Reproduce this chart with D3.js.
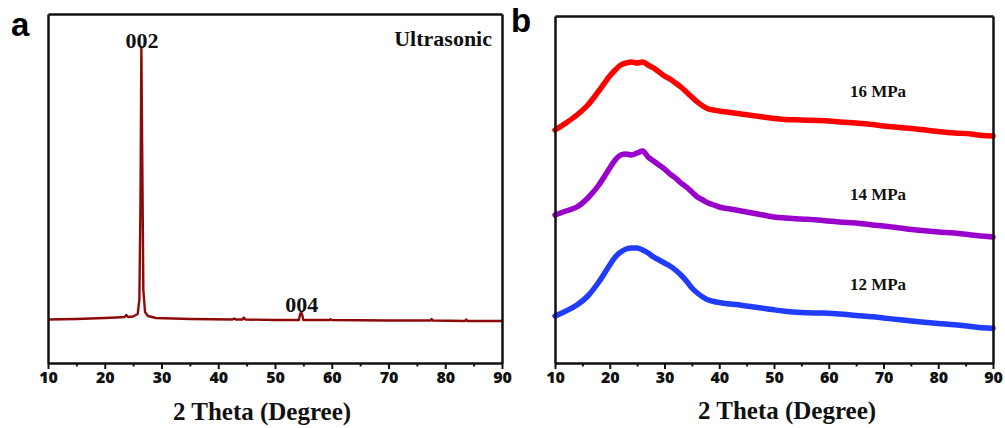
<!DOCTYPE html>
<html>
<head>
<meta charset="utf-8">
<script src="https://cdn.jsdelivr.net/npm/d3@7"></script>
<style>
  body { margin: 0; background: #fff; }
  .domain, .tick line { stroke: #111; }
  .lbl { font-family: "Liberation Serif", "Times New Roman", serif; font-weight: 700; fill: #111; }
  .panel { font-family: "Liberation Sans", Arial, sans-serif; font-weight: 700; font-size: 33px; fill: #000; }
</style>
</head>
<body>
<div id="chart"></div>
<script>
// x ticks, shared by both panels
var majorTicks = [10, 20, 30, 40, 50, 60, 70, 80, 90];
var minorTicks = [15, 25, 35, 45, 55, 65, 75, 85];

// panel a : ultrasonic XRD pattern (2theta, intensity a.u.)
var ultraTheta = [10, 15, 20, 22, 23.5, 23.8, 24.1, 25, 25.8, 26.1, 26.3, 26.45, 26.6, 26.8, 27.1, 27.6, 29, 35,
  42.5, 42.8, 43.1, 44.3, 44.5, 44.8, 50, 54.2, 54.4, 54.6, 54.8, 55.0, 59.6, 59.8, 60, 70,
  77.4, 77.6, 77.8, 83.5, 83.7, 83.9, 90];
var ultraInt = [435, 440, 450, 455, 460, 480, 460, 465, 490, 630, 1630, 3160, 2130, 730, 510, 470, 450, 440,
  435, 445, 435, 435, 455, 435, 430, 430, 480, 510, 480, 430, 430, 437, 430, 425,
  425, 440, 425, 420, 435, 420, 420];

// panel b : three pressures
var pressTheta = [10, 12, 14, 16, 18, 20, 21, 22, 23, 24, 25, 26, 27, 28, 29, 30, 31, 32, 33, 34, 35, 36, 37, 38, 39, 40,
  42, 44, 46, 48, 50, 52, 55, 58, 60, 62, 65, 68, 70, 73, 76, 80, 83, 86, 88, 90];
var mpa16 = [2330, 2400, 2480, 2580, 2720, 2870, 2930, 2980, 3000, 3010, 3000, 3010, 2980, 2950, 2910, 2870, 2840, 2800, 2760, 2710, 2660, 2610, 2570, 2540, 2530, 2520,
  2505, 2490, 2475, 2460, 2445, 2435, 2430, 2425, 2420, 2410, 2400, 2385, 2370, 2355, 2340, 2315, 2300, 2290, 2275, 2270];
var mpa14 = [1480, 1520, 1560, 1650, 1780, 1950, 2030, 2080, 2090, 2080, 2100, 2120, 2060, 2020, 1980, 1940, 1890, 1850, 1800, 1760, 1710, 1660, 1630, 1600, 1580, 1560,
  1540, 1520, 1500, 1480, 1460, 1450, 1440, 1430, 1420, 1410, 1400, 1380, 1370, 1350, 1330, 1310, 1300, 1280, 1270, 1260];
var mpa12 = [470, 520, 580, 670, 810, 980, 1060, 1110, 1140, 1150, 1150, 1130, 1100, 1060, 1030, 1000, 970, 930, 880, 820, 750, 700, 660, 630, 615, 605,
  590, 578, 563, 548, 532, 518, 505, 500, 498, 490, 475, 462, 450, 432, 415, 395, 382, 365, 352, 348];
var pressLabels = ["16 MPa", "14 MPa", "12 MPa"];
var pressColors = ["#ff0000", "#9a00cc", "#1f3cff"];

var W = 1005, H = 428;
var svg = d3.select("#chart").append("svg").attr("width", W).attr("height", H);

function drawFrame(x, y) {
  var x0 = x.range()[0], x1 = x.range()[1], y0 = y.range()[0], y1 = y.range()[1];
  var g = svg.append("g");
  // minor ticks
  g.append("g").attr("transform", "translate(0," + y0 + ")")
    .call(d3.axisBottom(x).tickValues(minorTicks).tickSize(3.5).tickSizeOuter(0).tickFormat(""))
    .call(function(s){ s.select(".domain").remove(); s.selectAll(".tick line").attr("stroke-width", 2); });
  g.append("g").attr("transform", "translate(0," + y0 + ")")
    .call(d3.axisBottom(x).tickValues(majorTicks).tickSize(6).tickSizeOuter(0).tickPadding(3))
    .call(function(s){
      s.selectAll(".tick line").attr("stroke-width", 2);
      s.select(".domain").attr("stroke-width", 2.5);
      s.selectAll(".tick text")
        .style("font-family", "'Open Sans', 'Noto Sans', sans-serif")
        .style("font-weight", "800").style("font-size", "16px").attr("fill", "#111");
    });
  g.append("g").attr("transform", "translate(0," + y1 + ")")
    .call(d3.axisTop(x).tickValues([]).tickSizeOuter(0))
    .select(".domain").attr("stroke-width", 2.5);
  g.append("g").attr("transform", "translate(" + x0 + ",0)")
    .call(d3.axisLeft(y).tickValues([]).tickSizeOuter(0))
    .select(".domain").attr("stroke-width", 2.5);
  g.append("g").attr("transform", "translate(" + x1 + ",0)")
    .call(d3.axisRight(y).tickValues([]).tickSizeOuter(0))
    .select(".domain").attr("stroke-width", 2.5);
  return g;
}

// ---- panel a
var xa = d3.scaleLinear().domain([10, 90]).range([48, 502]);
var ya = d3.scaleLinear().domain([0, 3490]).range([363, 14]);
var lineA = d3.line().x(function(d, i){ return xa(ultraTheta[i]); }).y(function(d){ return ya(d); });
svg.append("path").datum(ultraInt).attr("d", lineA)
  .attr("fill", "none").attr("stroke", "#8e0a0a").attr("stroke-width", 2.4).attr("stroke-linejoin", "round");
drawFrame(xa, ya);
svg.append("text").attr("class", "lbl").attr("x", xa(26.55)).attr("y", 48).attr("text-anchor", "middle")
  .attr("font-size", 22).text("002");
svg.append("text").attr("class", "lbl").attr("x", xa(54.7)).attr("y", 312).attr("text-anchor", "middle")
  .attr("font-size", 22).text("004");
svg.append("text").attr("class", "lbl").attr("x", 492).attr("y", 46).attr("text-anchor", "end")
  .attr("font-size", 22).text("Ultrasonic");
svg.append("text").attr("class", "lbl").attr("x", 262).attr("y", 420).attr("text-anchor", "middle")
  .attr("font-size", 25).text("2 Theta (Degree)");
svg.append("text").attr("class", "panel").attr("x", 11).attr("y", 36).text("a");

// ---- panel b
var xb = d3.scaleLinear().domain([10, 90]).range([555, 993]);
var yb = d3.scaleLinear().domain([0, 3470]).range([363, 16]);
var lineB = d3.line().x(function(d, i){ return xb(pressTheta[i]); }).y(function(d){ return yb(d); })
  .curve(d3.curveMonotoneX);
var series = [mpa16, mpa14, mpa12];
series.forEach(function(s, k){
  svg.append("path").datum(s).attr("d", lineB)
    .attr("fill", "none").attr("stroke", pressColors[k]).attr("stroke-width", 5.5)
    .attr("stroke-linejoin", "round").attr("stroke-linecap", "round");
});
drawFrame(xb, yb);
var labelTheta = 69, labelInt = [2660, 1630, 730];
pressLabels.forEach(function(t, k){
  svg.append("text").attr("class", "lbl").attr("x", xb(labelTheta)).attr("y", yb(labelInt[k]))
    .attr("text-anchor", "middle").attr("font-size", 17).text(t);
});
svg.append("text").attr("class", "lbl").attr("x", 787).attr("y", 419).attr("text-anchor", "middle")
  .attr("font-size", 25).text("2 Theta (Degree)");
svg.append("text").attr("class", "panel").attr("x", 511).attr("y", 32).text("b");
</script>
</body>
</html>
